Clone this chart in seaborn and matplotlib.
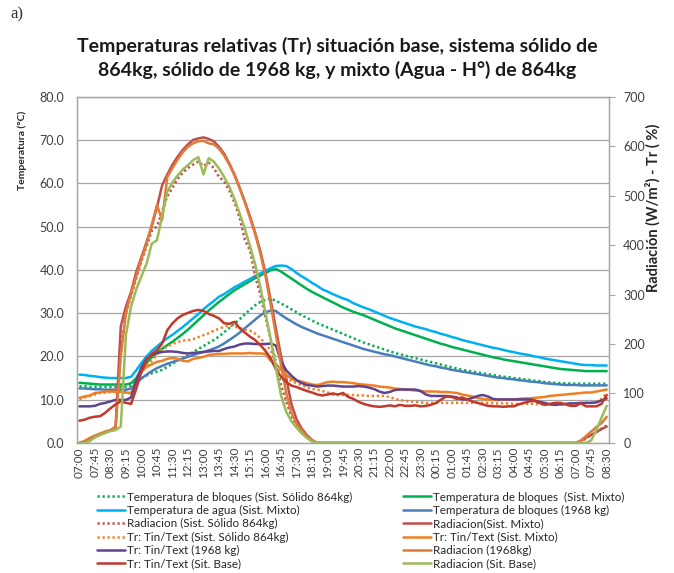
import pandas as pd
import matplotlib.pyplot as plt
import seaborn as sns

# 15-minute readings from 07:00 to 08:30 next day (103 points)
times = pd.date_range("2000-01-01 07:00", periods=103, freq="15min").strftime("%H:%M")

tick_labels = ["07:00", "07:45", "08:30", "09:15", "10:00", "10:45", "11:30", "12:15",
               "13:00", "13:45", "14:30", "15:15", "16:00", "16:45", "17:30", "18:15",
               "19:00", "19:45", "20:30", "21:15", "22:00", "22:45", "23:30", "00:15",
               "01:00", "01:45", "02:30", "03:15", "04:00", "04:45", "05:30", "06:15",
               "07:00", "07:45", "08:30"]

# --- temperatures (°C, left axis)
temp_bloq_solido = [13.1, 13.1, 13.0, 13.0, 12.9, 12.9, 12.9, 12.9, 12.9, 12.9,
                    13.2, 14.2, 15.0, 15.6, 16.1, 16.5, 16.9, 17.6, 18.3, 19.0,
                    19.6, 20.3, 21.0, 21.7, 22.4, 23.1, 23.8, 24.6, 25.6, 26.6,
                    27.6, 28.6, 29.7, 30.8, 31.8, 32.6, 33.1, 33.3, 32.9, 32.2,
                    31.6, 30.9, 30.2, 29.5, 28.9, 28.3, 27.7, 27.2, 26.7, 26.2,
                    25.7, 25.2, 24.7, 24.2, 23.7, 23.2, 22.8, 22.4, 22.0, 21.6,
                    21.2, 20.8, 20.5, 20.2, 19.9, 19.6, 19.3, 19.0, 18.7, 18.4,
                    18.1, 17.8, 17.5, 17.2, 16.9, 16.7, 16.5, 16.3, 16.1, 15.9,
                    15.7, 15.5, 15.3, 15.2, 15.0, 14.9, 14.7, 14.6, 14.4, 14.3,
                    14.1, 14.0, 13.9, 13.8, 13.8, 13.7, 13.7, 13.7, 13.7, 13.7,
                    13.7, 13.7, 13.7]

temp_bloq_mixto = [13.9, 13.8, 13.7, 13.6, 13.5, 13.5, 13.5, 13.5, 13.5, 13.5,
                   13.8, 15.0, 16.8, 18.5, 19.8, 20.8, 21.8, 22.6, 23.4, 24.3,
                   25.2, 26.2, 27.3, 28.4, 29.5, 30.6, 31.6, 32.6, 33.5, 34.4,
                   35.3, 36.0, 36.7, 37.4, 38.1, 38.7, 39.3, 39.9, 40.2, 39.6,
                   38.8, 38.0, 37.2, 36.4, 35.6, 34.9, 34.3, 33.7, 33.1, 32.5,
                   31.9, 31.3, 30.8, 30.3, 29.9, 29.5, 29.0, 28.5, 28.0, 27.5,
                   27.0, 26.5, 26.1, 25.7, 25.3, 24.9, 24.5, 24.1, 23.7, 23.3,
                   22.9, 22.6, 22.2, 21.9, 21.6, 21.3, 21.0, 20.7, 20.4, 20.1,
                   19.8, 19.6, 19.3, 19.1, 18.9, 18.7, 18.5, 18.3, 18.1, 17.9,
                   17.7, 17.5, 17.3, 17.1, 17.0, 16.9, 16.8, 16.7, 16.6, 16.6,
                   16.6, 16.6, 16.6]

temp_agua_mixto = [15.8, 15.7, 15.5, 15.4, 15.2, 15.1, 15.0, 15.0, 15.0, 15.0,
                   15.3, 16.8, 18.5, 20.0, 21.3, 22.3, 23.3, 24.2, 25.0, 25.9,
                   26.8, 27.8, 28.8, 29.8, 30.9, 31.9, 32.8, 33.8, 34.4, 35.2,
                   36.0, 36.6, 37.3, 37.9, 38.6, 39.2, 39.8, 40.4, 40.9, 41.0,
                   40.9, 40.2, 39.3, 38.5, 37.8, 37.0, 36.3, 35.5, 35.0, 34.4,
                   33.9, 33.4, 33.0, 32.3, 31.8, 31.3, 30.9, 30.4, 29.9, 29.4,
                   28.9, 28.5, 28.1, 27.7, 27.3, 26.9, 26.6, 26.3, 25.9, 25.6,
                   25.2, 24.9, 24.5, 24.2, 23.8, 23.5, 23.2, 22.9, 22.6, 22.3,
                   22.0, 21.8, 21.5, 21.2, 21.0, 20.7, 20.5, 20.3, 20.0, 19.8,
                   19.5, 19.3, 19.1, 18.9, 18.7, 18.5, 18.3, 18.1, 18.0, 18.0,
                   17.9, 17.9, 17.9]

temp_bloq_1968 = [12.6, 12.6, 12.5, 12.4, 12.4, 12.3, 12.3, 12.3, 12.3, 12.3,
                  12.6, 13.8, 14.9, 15.8, 16.6, 17.3, 17.8, 18.3, 18.7, 19.1,
                  19.5, 19.9, 20.3, 20.7, 21.0, 21.4, 21.8, 22.3, 23.0, 23.8,
                  24.6, 25.5, 26.5, 27.5, 28.5, 29.5, 30.2, 30.6, 30.5, 29.6,
                  28.8, 28.1, 27.4, 26.8, 26.3, 25.8, 25.3, 24.9, 24.5, 24.1,
                  23.7, 23.3, 22.9, 22.5, 22.1, 21.7, 21.4, 21.1, 20.8, 20.5,
                  20.3, 20.0, 19.7, 19.4, 19.1, 18.8, 18.5, 18.2, 17.9, 17.7,
                  17.4, 17.2, 16.9, 16.7, 16.5, 16.3, 16.1, 15.9, 15.7, 15.5,
                  15.3, 15.1, 15.0, 14.8, 14.7, 14.5, 14.4, 14.2, 14.1, 14.0,
                  13.8, 13.7, 13.6, 13.5, 13.4, 13.4, 13.4, 13.3, 13.3, 13.3,
                  13.3, 13.3, 13.3]

# --- radiation (W/m2, right axis): day values, night zeros, next-morning values
night = [0, 0, 0, 0, 0, 0, 0, 0, 0, 0, 0, 0, 0, 0, 0, 0, 0,
         0, 0, 0, 0, 0, 0, 0, 0, 0, 0, 0, 0, 0, 0, 0, 0, 0,
         0, 0, 0, 0, 0, 0, 0, 0, 0, 0, 0, 0, 0, 0, 0, 0, 0]

rad_solido = [0, 3, 8, 13, 18, 21, 25, 30, 193, 263,
              298, 333, 368, 398, 429, 438, 468, 499, 516, 534,
              547, 556, 563, 569, 560, 567, 556, 538, 529, 510,
              486, 455, 411, 389, 337, 300, 254, 210, 162, 117,
              83, 55, 35, 22, 11, 4] + night + [3, 9, 16, 22, 29, 35]

rad_mixto = [0, 3, 9, 14, 18, 22, 25, 32, 236, 276,
             306, 346, 376, 407, 438, 477, 521, 543, 563, 579,
             593, 604, 613, 616, 618, 615, 610, 599, 585, 565,
             543, 516, 488, 458, 425, 388, 343, 289, 232, 175,
             131, 79, 48, 29, 16, 6] + night + [4, 11, 16, 22, 28, 33]

rad_1968 = [0, 4, 10, 15, 19, 23, 26, 33, 175, 263,
            302, 337, 372, 403, 442, 481, 451, 538, 556, 573,
            588, 599, 606, 610, 611, 606, 604, 595, 581, 563,
            541, 515, 487, 455, 422, 383, 337, 280, 219, 158,
            101, 61, 39, 25, 13, 5] + night + [5, 14, 23, 32, 40, 53]

rad_base = [0, 0, 4, 11, 16, 20, 24, 26, 33, 219,
            276, 311, 337, 363, 403, 410, 459, 508, 527, 541,
            553, 562, 572, 578, 543, 576, 569, 555, 538, 518,
            493, 464, 433, 398, 361, 315, 263, 210, 153, 96,
            63, 44, 31, 19, 10, 3] + night + [0, 0, 5, 26, 51, 75]

# --- relative temperature Tr = Tin/Text (%, right axis)
tr_solido = [89, 92, 95, 98, 101, 102, 103, 103, 103, 102,
             100, 123, 143, 156, 166, 179, 189, 195, 200, 204,
             207, 208, 210, 214, 218, 222, 227, 231, 235, 238,
             235, 233, 229, 227, 221, 212, 200, 188, 158, 144,
             134, 125, 121, 117, 112, 109, 108, 105, 102, 98,
             97, 97, 97, 97, 96, 96, 95, 95, 95, 95,
             93, 89, 87, 85, 84, 83, 82, 81, 81, 81,
             81, 81, 81, 81, 81, 81, 81, 81, 81, 81,
             80, 80, 80, 80, 79, 79, 79, 79, 79, 78,
             78, 78, 77, 77, 77, 78, 79, 80, 81, 81,
             83, 89, 101]

tr_mixto = [91, 94, 96, 101, 102, 104, 104, 104, 104, 102,
            101, 127, 144, 154, 159, 164, 166, 170, 172, 170,
            166, 165, 170, 172, 174, 178, 179, 180, 180, 181,
            181, 181, 181, 182, 181, 181, 180, 166, 158, 151,
            138, 130, 126, 124, 121, 118, 117, 120, 123, 124,
            123, 123, 122, 121, 119, 118, 117, 116, 114, 113,
            112, 110, 109, 108, 107, 106, 105, 104, 104, 104,
            103, 103, 102, 101, 98, 96, 94, 91, 89, 88,
            87, 87, 88, 88, 88, 89, 90, 90, 91, 92,
            93, 95, 96, 97, 98, 99, 100, 101, 102, 102,
            104, 106, 108]

tr_1968 = [74, 74, 74, 75, 79, 81, 84, 87, 87, 87,
           92, 127, 153, 170, 178, 182, 184, 185, 185, 184,
           182, 181, 182, 183, 184, 185, 186, 186, 190, 193,
           195, 199, 201, 201, 200, 200, 200, 201, 197, 165,
           147, 136, 127, 121, 117, 116, 114, 115, 116, 116,
           115, 114, 114, 114, 115, 114, 112, 109, 104, 101,
           103, 107, 108, 108, 108, 108, 105, 98, 95, 95,
           95, 95, 94, 92, 88, 88, 91, 95, 97, 94,
           89, 88, 88, 88, 88, 88, 88, 88, 86, 83,
           81, 78, 77, 78, 79, 80, 80, 81, 81, 81,
           82, 86, 90]

tr_base = [45, 47, 51, 53, 54, 61, 70, 78, 84, 81,
           79, 110, 144, 168, 180, 188, 201, 228, 242, 252,
           259, 263, 267, 269, 267, 261, 257, 252, 242, 241,
           245, 232, 223, 215, 208, 198, 186, 171, 149, 134,
           123, 116, 113, 109, 105, 102, 98, 96, 98, 100,
           98, 101, 93, 89, 83, 79, 76, 74, 73, 74,
           76, 74, 77, 75, 75, 76, 74, 75, 77, 81,
           88, 94, 93, 89, 92, 88, 84, 81, 78, 75,
           74, 74, 73, 74, 74, 78, 81, 84, 85, 81,
           77, 79, 81, 81, 78, 75, 75, 80, 74, 74,
           74, 79, 97]

sns.set_style("white")
plt.rcParams['font.family'] = ['Lato', 'DejaVu Sans']

fig = plt.figure(figsize=(6.74, 5.73), dpi=100)
ax = fig.add_axes([0.114, 0.227, 0.790, 0.604])
ax2 = ax.twinx()

pos = list(range(len(times)))
dot = (0, (0.9, 1.1))

# (label, values, axis, colour, style), in legend order
series = [
    ("Temperatura de bloques (Sist. Sólido 864kg)", temp_bloq_solido, ax, "#00B050", dot),
    ("Temperatura de bloques  (Sist. Mixto)", temp_bloq_mixto, ax, "#00B050", "-"),
    ("Temperatura de agua (Sist. Mixto)", temp_agua_mixto, ax, "#00B0F0", "-"),
    ("Temperatura de bloques (1968 kg)", temp_bloq_1968, ax, "#4A7EBB", "-"),
    ("Radiacion (Sist. Sólido 864kg)", rad_solido, ax2, "#C0504D", dot),
    ("Radiacion(Sist. Mixto)", rad_mixto, ax2, "#C0504D", "-"),
    ("Tr: Tin/Text (Sist. Sólido 864kg)", tr_solido, ax2, "#F07F22", dot),
    ("Tr: Tin/Text (Sist. Mixto)", tr_mixto, ax2, "#F07F22", "-"),
    ("Tr: Tin/Text (1968 kg)", tr_1968, ax2, "#5E4390", "-"),
    ("Radiacion (1968kg)", rad_1968, ax2, "#E07B39", "-"),
    ("Tr: Tin/Text (Sit. Base)", tr_base, ax2, "#C0392B", "-"),
    ("Radiacion (Sit. Base)", rad_base, ax2, "#9BBB59", "-"),
]

handles = []
for label, vals, a, col, ls in series:
    sns.lineplot(x=pos, y=vals, ax=a, color=col, linestyle=ls, linewidth=1.8,
                 label=label, legend=False)
    handles.append(a.get_lines()[-1])

for a in (ax, ax2):
    if a.get_legend() is not None:
        a.get_legend().remove()

grey = "#A6A6A6"
tick_col = "#404040"

ax.set_xlim(-0.5, len(pos) - 0.5)
ax.set_ylim(0, 80)
ax.set_yticks(range(0, 81, 10))
ax.set_yticklabels([f"{v:.1f}" for v in range(0, 81, 10)], fontsize=9, color=tick_col)
ax.yaxis.grid(True, color=grey, linewidth=0.9)
ax.set_xticks(pos[::3])
ax.set_xticklabels(tick_labels, rotation=90, fontsize=8.5, color=tick_col)
ax.tick_params(axis='both', length=0)
ax.tick_params(axis='y', pad=9)
ax.tick_params(axis='x', pad=3)

ax2.set_ylim(0, 700)
ax2.set_yticks(range(0, 701, 100))
ax2.set_yticklabels([str(v) for v in range(0, 701, 100)], fontsize=9, color=tick_col)
ax2.tick_params(axis='y', length=4, color=grey, direction='out', pad=6)
ax2.grid(False)

for a in (ax, ax2):
    for s in a.spines.values():
        s.set_color(grey)
        s.set_linewidth(0.9)
ax.set_xlabel("")
ax.set_ylabel("")
ax2.set_ylabel("")

fig.text(0.033, 1 - 150 / 573, "Temperatura (°C)", rotation=90, ha='center', va='center',
         fontsize=7.5, weight='bold', color='#262626')
fig.text(0.969, 1 - 208 / 573, "Radiación (W/m²) - Tr ( %)", rotation=90, ha='center',
         va='center', fontsize=10.5, weight='bold', color='#262626')

fig.text(0.5, 1 - 58 / 573,
         "Temperaturas relativas (Tr) situación base, sistema sólido de\n"
         "864kg, sólido de 1968 kg, y mixto (Agua - H°) de 864kg",
         ha='center', va='center', fontsize=14, weight='bold', color='#1a1a1a',
         linespacing=1.45)
fig.text(0.015, 1 - 14 / 573, "a)", ha='left', va='center', fontsize=12,
         family='Liberation Serif', color='#333333')

# legend: two columns, read row by row as in the original
leg_kw = dict(loc='upper left', frameon=False, fontsize=8.4, handlelength=2.4,
              handletextpad=0.2, labelspacing=0.2, labelcolor='#262626')
for col_idx, x0 in ((0, 0.128), (1, 0.582)):
    idx = list(range(col_idx, 12, 2))
    fig.legend([handles[i] for i in idx], [series[i][0] for i in idx],
               bbox_to_anchor=(x0, 1 - 481 / 573), **leg_kw)

fig.savefig("out.png", dpi=100)
